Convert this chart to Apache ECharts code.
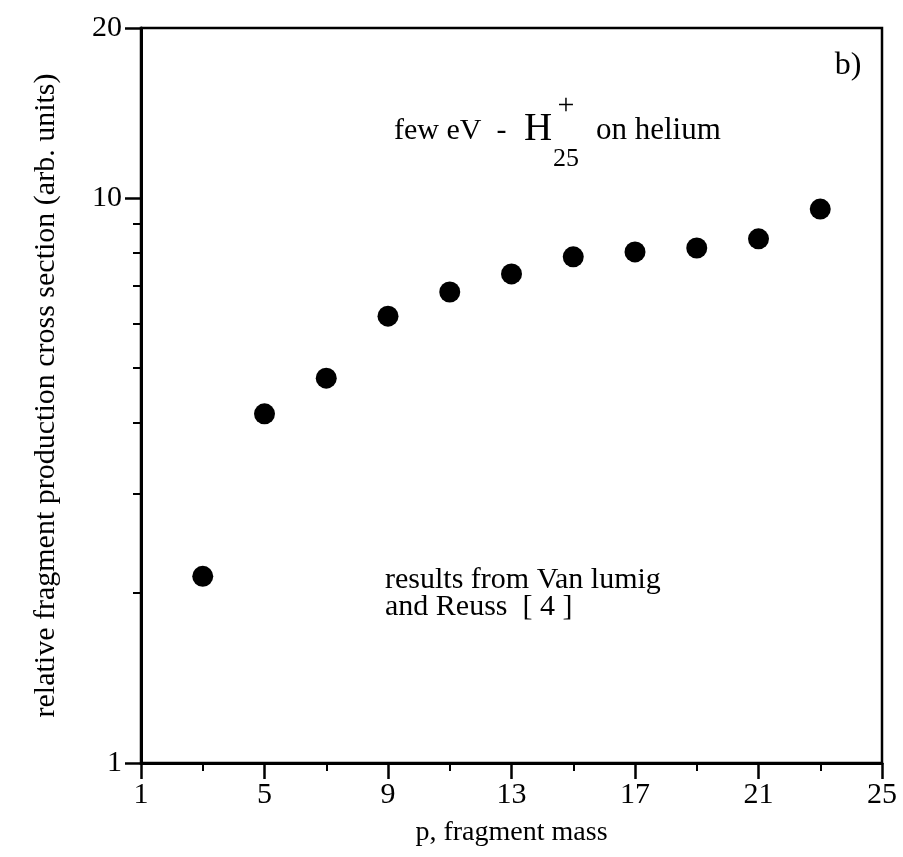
<!DOCTYPE html>
<html>
<head>
<meta charset="utf-8">
<script src="https://cdn.jsdelivr.net/npm/echarts@6/dist/echarts.min.js"></script>
<style>
  html, body { margin: 0; padding: 0; background: #fff; }
  #main { width: 903px; height: 857px; }
</style>
</head>
<body>
<div id="main"></div>
<script>
// fragment mass p and relative cross section
var massP = [3, 5, 7, 9, 11, 13, 15, 17, 19, 21, 23];
var crossSection = [2.14, 4.15, 4.80, 6.18, 6.82, 7.34, 7.87, 8.03, 8.16, 8.47, 9.56];

var xMajorTicks = [1, 5, 9, 13, 17, 21, 25];
var xMinorTicks = [3, 7, 11, 15, 19, 23];
var yMajorTicks = [1, 10, 20];
var yMinorTicks = [2, 3, 4, 5, 6, 7, 8, 9];

var serif = '"Liberation Serif", "DejaVu Serif", serif';

var points = [];
for (var i = 0; i < massP.length; i++) {
    points.push([massP[i], crossSection[i]]);
}

var myChart = echarts.init(document.getElementById('main'));

var option = {
    backgroundColor: '#fff',
    animation: false,
    grid: {
        left: 141,
        right: 21,
        top: 28,
        bottom: 94,
        containLabel: false,
        outerBoundsMode: 'none',
        show: true,
        borderColor: '#000',
        borderWidth: 2.5
    },
    xAxis: [
        {
            type: 'value',
            min: 1,
            max: 25,
            name: 'p, fragment mass',
            nameLocation: 'middle',
            nameGap: 56,
            nameTextStyle: { fontFamily: serif, fontSize: 28, color: '#000' },
            axisLine: { lineStyle: { color: '#000', width: 3 } },
            axisTick: { show: true, inside: false, length: 16, lineStyle: { color: '#000', width: 2.5 }, customValues: xMajorTicks },
            axisLabel: { customValues: xMajorTicks, margin: 17, fontFamily: serif, fontSize: 30, color: '#000' },
            splitLine: { show: false }
        },
        {
            // minor ticks only
            type: 'value',
            position: 'bottom',
            offset: 0,
            min: 1,
            max: 25,
            axisLine: { show: false },
            axisTick: { show: true, inside: false, length: 8, lineStyle: { color: '#000', width: 2 }, customValues: xMinorTicks },
            axisLabel: { show: false },
            splitLine: { show: false }
        }
    ],
    yAxis: [
        {
            type: 'log',
            logBase: 10,
            min: 1,
            max: 20,
            name: 'relative fragment production cross section (arb. units)',
            nameLocation: 'middle',
            nameGap: 80,
            nameRotate: 90,
            nameTextStyle: { fontFamily: serif, fontSize: 30, color: '#000' },
            axisLine: { lineStyle: { color: '#000', width: 3 } },
            axisTick: { show: true, inside: false, length: 16, lineStyle: { color: '#000', width: 2.5 }, customValues: yMajorTicks },
            axisLabel: { customValues: yMajorTicks, margin: 19, showMinLabel: true, showMaxLabel: true, fontFamily: serif, fontSize: 30, color: '#000' },
            splitLine: { show: false }
        },
        {
            type: 'log',
            logBase: 10,
            position: 'left',
            offset: 0,
            min: 1,
            max: 20,
            axisLine: { show: false },
            axisTick: { show: true, inside: false, length: 8, lineStyle: { color: '#000', width: 2 }, customValues: yMinorTicks },
            axisLabel: { show: false },
            splitLine: { show: false }
        }
    ],
    graphic: [
        { type: 'text', x: 848, y: 66, style: { text: 'b)', font: '32px ' + serif, fill: '#000', align: 'center', verticalAlign: 'middle' } },
        { type: 'text', x: 394, y: 131, style: { text: 'few eV  -', font: '30px ' + serif, fill: '#000', align: 'left', verticalAlign: 'middle' } },
        { type: 'text', x: 524, y: 130, style: { text: 'H', font: '39px ' + serif, fill: '#000', align: 'left', verticalAlign: 'middle' } },
        { type: 'text', x: 566, y: 106, style: { text: '+', font: '30px ' + serif, fill: '#000', align: 'center', verticalAlign: 'middle' } },
        { type: 'text', x: 566, y: 159, style: { text: '25', font: '26px ' + serif, fill: '#000', align: 'center', verticalAlign: 'middle' } },
        { type: 'text', x: 596, y: 131, style: { text: 'on helium', font: '31px ' + serif, fill: '#000', align: 'left', verticalAlign: 'middle' } },
        { type: 'text', x: 385, y: 580, style: { text: 'results from Van lumig', font: '30px ' + serif, fill: '#000', align: 'left', verticalAlign: 'middle' } },
        { type: 'text', x: 385, y: 607, style: { text: 'and Reuss  [ 4 ]', font: '30px ' + serif, fill: '#000', align: 'left', verticalAlign: 'middle' } }
    ],
    series: [
        {
            type: 'scatter',
            xAxisIndex: 0,
            yAxisIndex: 0,
            symbol: 'circle',
            symbolSize: 21,
            itemStyle: { color: '#000', opacity: 1 },
            data: points
        }
    ]
};

myChart.setOption(option);
</script>
</body>
</html>
